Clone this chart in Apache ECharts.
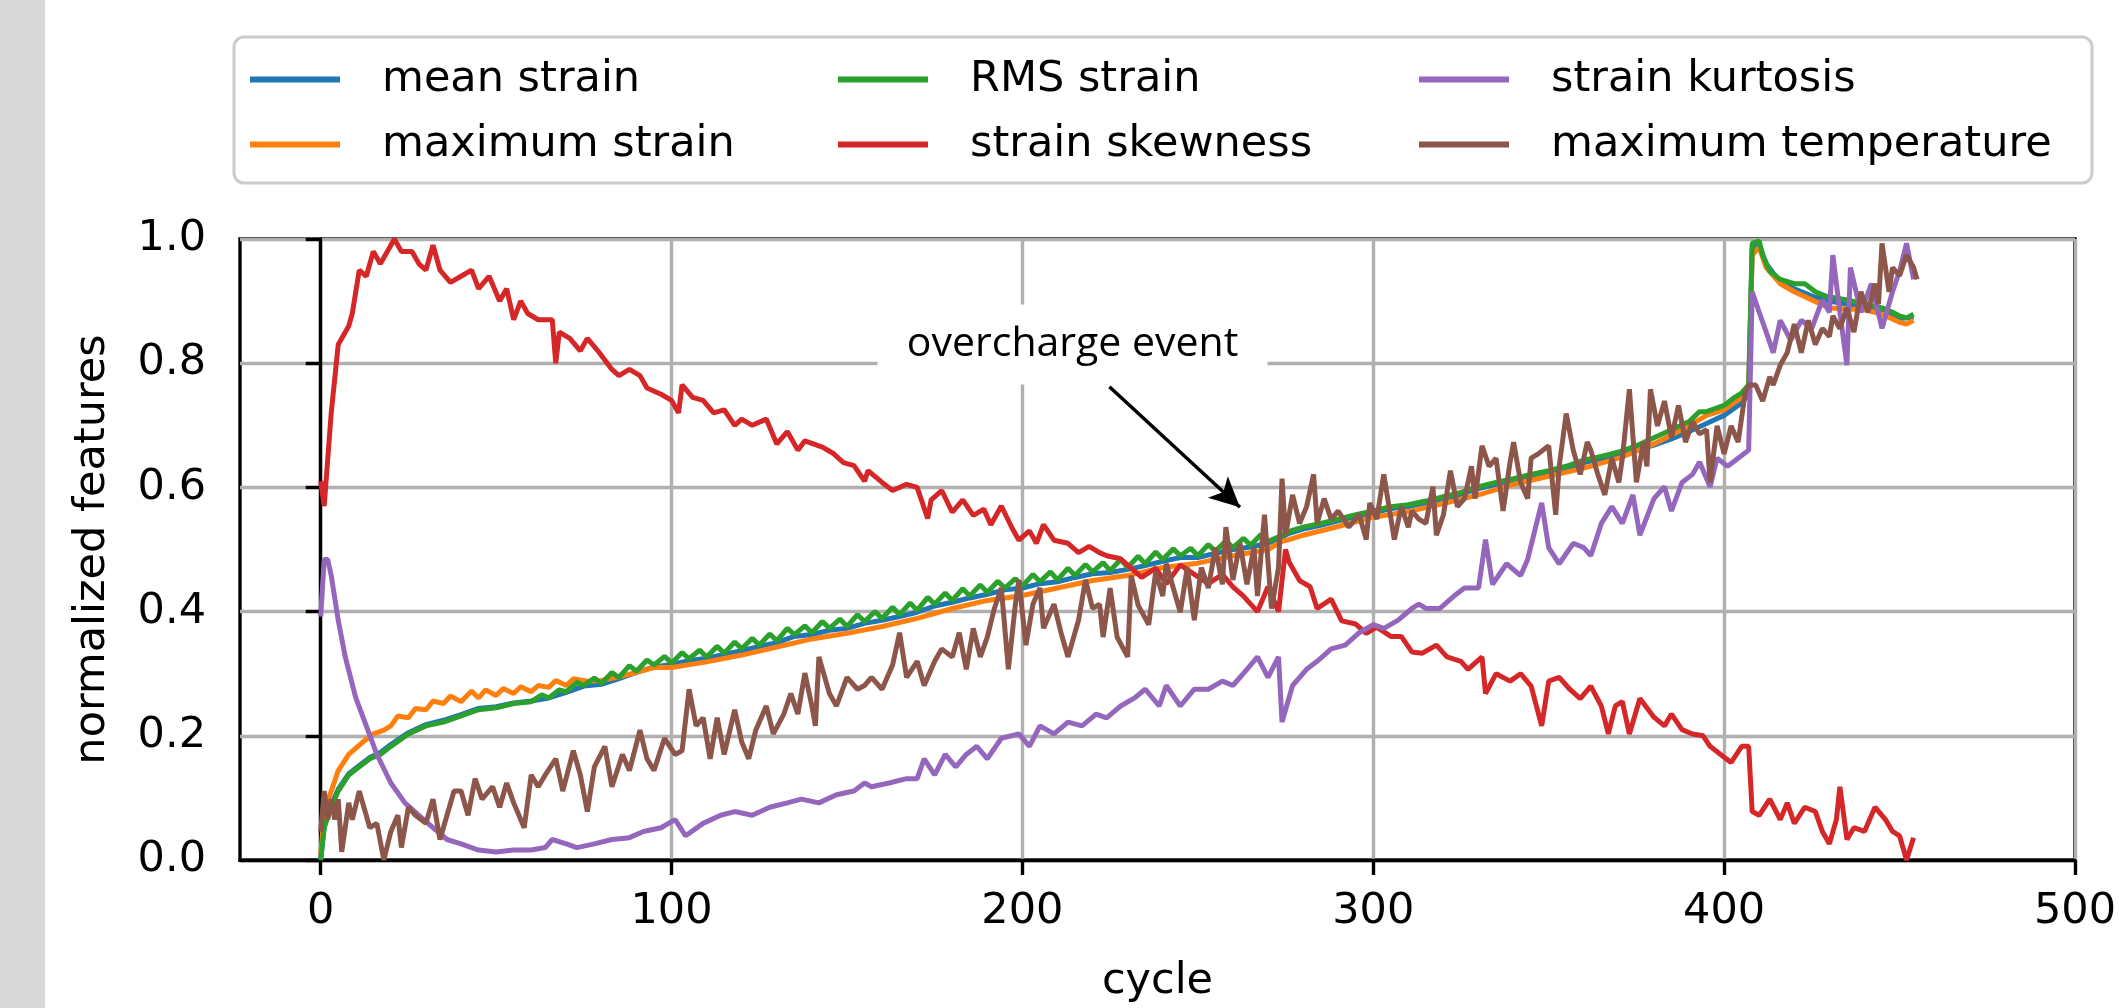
<!DOCTYPE html>
<html>
<head>
<meta charset="utf-8">
<script src="https://cdn.jsdelivr.net/npm/echarts@6/dist/echarts.min.js"></script>
<style>
  html, body { margin: 0; padding: 0; background: #fff; }
  #chart { width: 2119px; height: 1008px; }
</style>
</head>
<body>
<div id="chart"></div>
<script>
(function () {
  'use strict';

  // x tick labels
  var cycleTicks = [0, 100, 200, 300, 400, 500];

  // [cycle, normalized value]
  var meanStrain = [[0,0],[1,0.055],[3,0.088],[5,0.114],[8,0.139],[11,0.152],[14,0.165],[17,0.173],[20,0.186],[25,0.205],[30,0.218],[35,0.225],[40,0.234],[45,0.244],[50,0.247],[55,0.253],[60,0.256],[65,0.261],[70,0.27],[75,0.28],[80,0.283],[85,0.292],[90,0.302],[95,0.311],[100,0.315],[105,0.321],[110,0.325],[115,0.331],[120,0.337],[125,0.344],[130,0.35],[135,0.36],[140,0.363],[145,0.37],[150,0.373],[155,0.381],[160,0.386],[165,0.392],[170,0.399],[175,0.409],[180,0.415],[185,0.422],[190,0.428],[195,0.435],[200,0.438],[205,0.445],[210,0.448],[215,0.455],[220,0.461],[225,0.463],[230,0.468],[235,0.474],[240,0.481],[245,0.487],[250,0.487],[255,0.494],[260,0.5],[265,0.504],[270,0.51],[274,0.52],[276,0.526],[280,0.533],[285,0.539],[290,0.546],[295,0.553],[300,0.559],[305,0.566],[310,0.569],[315,0.575],[320,0.582],[325,0.589],[330,0.598],[335,0.605],[340,0.611],[345,0.618],[350,0.624],[355,0.631],[360,0.64],[365,0.646],[370,0.652],[375,0.66],[380,0.668],[385,0.678],[390,0.69],[395,0.703],[400,0.716],[405,0.736],[407,0.75],[408,0.985],[410,0.99],[412,0.96],[416,0.93],[420,0.92],[425,0.908],[430,0.9],[440,0.89],[445,0.884],[450,0.872],[454,0.874]];

  var maxStrain = [[0,0.007],[1,0.078],[3,0.111],[5,0.144],[8,0.17],[10,0.18],[12,0.19],[15,0.203],[18,0.209],[20,0.216],[22,0.232],[25,0.229],[27,0.244],[30,0.242],[32,0.256],[35,0.252],[37,0.264],[40,0.255],[43,0.272],[45,0.261],[47,0.274],[50,0.265],[52,0.276],[55,0.268],[57,0.279],[60,0.271],[62,0.281],[65,0.278],[67,0.289],[70,0.281],[72,0.292],[76,0.288],[80,0.289],[85,0.295],[90,0.302],[95,0.31],[100,0.31],[110,0.319],[120,0.33],[130,0.343],[140,0.356],[150,0.365],[160,0.376],[170,0.389],[180,0.405],[190,0.418],[200,0.426],[210,0.438],[220,0.45],[230,0.458],[240,0.471],[250,0.478],[260,0.49],[270,0.5],[274,0.513],[276,0.516],[280,0.523],[290,0.537],[300,0.552],[310,0.561],[320,0.574],[330,0.588],[340,0.605],[350,0.618],[360,0.631],[370,0.647],[380,0.67],[390,0.699],[395,0.716],[400,0.725],[405,0.745],[407,0.755],[408,0.974],[410,0.987],[412,0.954],[416,0.928],[420,0.915],[425,0.902],[430,0.889],[440,0.886],[445,0.879],[450,0.866],[452,0.863],[454,0.869]];

  var rmsStrain = [[0,0],[1,0.052],[3,0.085],[5,0.111],[8,0.137],[11,0.15],[14,0.163],[17,0.17],[20,0.183],[25,0.203],[30,0.216],[35,0.222],[40,0.232],[45,0.242],[50,0.245],[55,0.252],[60,0.255],[63,0.266],[65,0.261],[68,0.274],[70,0.271],[73,0.286],[75,0.281],[78,0.293],[80,0.284],[83,0.302],[85,0.294],[88,0.313],[90,0.304],[93,0.322],[95,0.314],[98,0.328],[100,0.317],[103,0.334],[105,0.324],[108,0.338],[110,0.327],[113,0.344],[115,0.333],[118,0.351],[120,0.34],[123,0.357],[125,0.346],[128,0.364],[130,0.353],[133,0.373],[135,0.363],[138,0.377],[140,0.366],[143,0.384],[145,0.373],[148,0.388],[150,0.376],[153,0.395],[155,0.384],[158,0.4],[160,0.389],[163,0.407],[165,0.395],[168,0.414],[170,0.402],[173,0.423],[175,0.412],[178,0.43],[180,0.418],[183,0.437],[185,0.425],[188,0.443],[190,0.431],[193,0.449],[195,0.438],[198,0.453],[200,0.441],[203,0.46],[205,0.448],[208,0.464],[210,0.451],[213,0.47],[215,0.458],[218,0.476],[220,0.464],[223,0.479],[225,0.466],[228,0.484],[230,0.471],[233,0.489],[235,0.477],[238,0.496],[240,0.484],[243,0.501],[245,0.49],[248,0.502],[250,0.49],[253,0.508],[255,0.497],[258,0.514],[260,0.503],[263,0.518],[265,0.507],[268,0.524],[270,0.513],[274,0.523],[276,0.529],[280,0.536],[285,0.542],[290,0.549],[295,0.556],[300,0.562],[305,0.569],[310,0.572],[315,0.578],[320,0.585],[325,0.592],[330,0.601],[335,0.608],[340,0.614],[345,0.621],[350,0.627],[355,0.634],[360,0.644],[365,0.65],[370,0.657],[375,0.667],[380,0.68],[385,0.693],[390,0.706],[393,0.722],[395,0.722],[400,0.732],[403,0.745],[405,0.752],[407,0.765],[408,0.993],[410,0.997],[411,0.974],[413,0.948],[416,0.935],[420,0.928],[423,0.928],[426,0.915],[429,0.908],[435,0.902],[440,0.895],[445,0.889],[448,0.882],[450,0.876],[452,0.873],[454,0.879]];

  var skewness = [[0,0.61],[1,0.57],[3,0.72],[5,0.83],[8,0.86],[9,0.88],[11,0.95],[13,0.94],[15,0.98],[17,0.96],[19,0.98],[21,1.0],[23,0.98],[26,0.98],[28,0.96],[30,0.95],[32,0.99],[34,0.95],[37,0.93],[40,0.94],[43,0.95],[45,0.92],[48,0.94],[51,0.9],[53,0.92],[55,0.87],[57,0.9],[59,0.88],[62,0.87],[66,0.87],[67,0.8],[68,0.85],[71,0.84],[74,0.82],[76,0.84],[79,0.82],[83,0.79],[85,0.78],[88,0.79],[91,0.78],[93,0.76],[97,0.75],[100,0.74],[102,0.72],[103,0.765],[106,0.745],[109,0.74],[112,0.72],[115,0.725],[118,0.7],[120,0.71],[123,0.7],[127,0.71],[130,0.67],[133,0.69],[136,0.66],[138,0.675],[143,0.665],[146,0.655],[149,0.64],[152,0.635],[155,0.61],[156,0.627],[160,0.608],[163,0.595],[167,0.605],[170,0.6],[173,0.55],[174,0.58],[177,0.595],[180,0.56],[183,0.58],[186,0.555],[189,0.565],[191,0.54],[194,0.57],[197,0.535],[199,0.515],[202,0.53],[204,0.51],[206,0.54],[209,0.515],[213,0.51],[216,0.495],[219,0.505],[222,0.495],[224,0.49],[228,0.485],[231,0.47],[234,0.455],[238,0.47],[241,0.445],[245,0.475],[249,0.46],[253,0.445],[257,0.46],[260,0.44],[263,0.425],[267,0.4],[270,0.44],[273,0.4],[275,0.5],[276,0.48],[279,0.45],[282,0.44],[284,0.405],[288,0.42],[291,0.385],[295,0.38],[298,0.365],[301,0.375],[305,0.36],[308,0.36],[311,0.335],[314,0.333],[318,0.346],[321,0.327],[325,0.32],[327,0.307],[331,0.327],[332,0.268],[335,0.3],[339,0.288],[342,0.3],[345,0.28],[348,0.216],[350,0.288],[353,0.294],[356,0.275],[359,0.26],[362,0.28],[365,0.248],[367,0.203],[369,0.248],[371,0.255],[373,0.203],[376,0.26],[380,0.23],[383,0.216],[385,0.235],[388,0.21],[391,0.203],[394,0.2],[396,0.183],[399,0.17],[402,0.157],[405,0.183],[407,0.183],[408,0.078],[410,0.072],[413,0.098],[416,0.065],[418,0.092],[420,0.059],[423,0.085],[426,0.078],[428,0.046],[430,0.026],[432,0.065],[433,0.118],[435,0.033],[437,0.052],[440,0.046],[443,0.085],[446,0.065],[448,0.046],[450,0.039],[452,0.0],[454,0.036]];

  var kurtosis = [[0,0.392],[1,0.484],[2,0.484],[3,0.458],[5,0.386],[7,0.327],[10,0.261],[13,0.216],[16,0.17],[20,0.124],[24,0.092],[28,0.072],[32,0.052],[36,0.033],[40,0.026],[45,0.016],[50,0.013],[55,0.016],[60,0.016],[64,0.02],[66,0.033],[70,0.026],[73,0.02],[78,0.026],[83,0.033],[88,0.036],[92,0.046],[97,0.052],[101,0.065],[104,0.039],[109,0.059],[114,0.072],[118,0.078],[123,0.072],[128,0.085],[133,0.092],[137,0.098],[142,0.092],[147,0.105],[152,0.111],[155,0.124],[157,0.118],[162,0.124],[167,0.131],[170,0.131],[172,0.163],[175,0.137],[178,0.17],[181,0.15],[184,0.17],[187,0.183],[190,0.163],[194,0.196],[199,0.203],[202,0.183],[205,0.216],[209,0.203],[213,0.222],[217,0.216],[221,0.235],[224,0.229],[228,0.248],[232,0.261],[235,0.275],[239,0.248],[241,0.281],[245,0.248],[249,0.275],[253,0.275],[257,0.288],[260,0.281],[264,0.307],[267,0.327],[270,0.294],[273,0.327],[274,0.222],[277,0.281],[281,0.307],[284,0.32],[288,0.34],[292,0.346],[296,0.366],[300,0.379],[303,0.373],[307,0.386],[311,0.405],[313,0.412],[315,0.405],[319,0.405],[323,0.425],[326,0.438],[330,0.438],[332,0.516],[334,0.444],[338,0.477],[342,0.458],[344,0.484],[348,0.575],[350,0.503],[353,0.477],[357,0.51],[360,0.503],[362,0.49],[365,0.542],[368,0.569],[371,0.542],[374,0.588],[376,0.523],[380,0.582],[383,0.601],[385,0.562],[388,0.608],[391,0.621],[393,0.641],[396,0.601],[398,0.647],[401,0.634],[404,0.647],[407,0.66],[408,0.915],[410,0.882],[412,0.85],[414,0.817],[416,0.869],[419,0.837],[422,0.869],[425,0.856],[428,0.902],[430,0.882],[431,0.974],[433,0.882],[435,0.797],[436,0.954],[439,0.882],[442,0.928],[445,0.856],[448,0.915],[450,0.948],[452,0.993],[454,0.935]];

  var maxTemp = [[0,0.046],[1,0.111],[2,0.065],[3,0.098],[4,0.065],[5,0.098],[6,0.013],[8,0.092],[9,0.065],[11,0.111],[14,0.052],[16,0.059],[18,0.0],[20,0.046],[22,0.072],[23,0.02],[25,0.085],[27,0.072],[30,0.059],[32,0.098],[34,0.033],[36,0.072],[38,0.111],[40,0.111],[42,0.072],[44,0.131],[46,0.098],[49,0.118],[51,0.085],[53,0.124],[55,0.092],[58,0.052],[60,0.137],[62,0.118],[64,0.137],[67,0.163],[69,0.111],[72,0.176],[74,0.137],[76,0.078],[78,0.15],[81,0.183],[83,0.118],[86,0.17],[88,0.144],[91,0.209],[93,0.163],[95,0.144],[98,0.196],[101,0.17],[103,0.176],[105,0.275],[107,0.216],[109,0.229],[111,0.163],[113,0.229],[115,0.17],[118,0.242],[120,0.19],[122,0.163],[124,0.209],[127,0.248],[129,0.203],[132,0.235],[134,0.268],[136,0.235],[138,0.301],[140,0.248],[141,0.216],[142,0.327],[145,0.268],[147,0.248],[150,0.294],[153,0.275],[155,0.281],[157,0.294],[160,0.275],[163,0.314],[165,0.366],[167,0.294],[170,0.32],[172,0.281],[175,0.32],[177,0.34],[180,0.327],[182,0.366],[184,0.307],[186,0.373],[188,0.327],[190,0.359],[192,0.405],[194,0.438],[196,0.307],[198,0.412],[199,0.451],[201,0.346],[203,0.412],[205,0.438],[206,0.373],[209,0.412],[211,0.366],[213,0.327],[216,0.386],[218,0.451],[220,0.405],[222,0.412],[223,0.359],[225,0.438],[227,0.359],[230,0.327],[231,0.458],[233,0.41],[236,0.379],[238,0.464],[240,0.425],[241,0.477],[243,0.438],[245,0.399],[247,0.471],[249,0.386],[251,0.471],[253,0.438],[255,0.503],[257,0.444],[258,0.536],[260,0.451],[262,0.51],[264,0.444],[266,0.503],[267,0.425],[269,0.556],[271,0.405],[273,0.471],[274,0.614],[275,0.523],[277,0.588],[279,0.542],[281,0.569],[283,0.621],[284,0.542],[286,0.582],[288,0.549],[290,0.562],[293,0.536],[296,0.556],[298,0.516],[299,0.575],[301,0.549],[303,0.621],[306,0.516],[308,0.569],[310,0.536],[311,0.562],[313,0.549],[315,0.542],[317,0.601],[318,0.523],[320,0.556],[322,0.627],[324,0.569],[326,0.582],[328,0.634],[329,0.582],[331,0.667],[333,0.634],[335,0.647],[337,0.562],[339,0.641],[340,0.673],[342,0.608],[344,0.582],[345,0.647],[347,0.654],[350,0.667],[352,0.556],[353,0.634],[355,0.719],[357,0.66],[359,0.621],[361,0.673],[362,0.66],[364,0.621],[366,0.588],[368,0.647],[370,0.608],[371,0.647],[373,0.758],[375,0.608],[377,0.673],[378,0.634],[379,0.758],[381,0.699],[383,0.739],[385,0.68],[387,0.732],[389,0.673],[391,0.706],[393,0.686],[395,0.693],[396,0.608],[398,0.699],[400,0.654],[402,0.699],[404,0.673],[406,0.752],[407,0.765],[409,0.765],[411,0.739],[413,0.778],[414,0.765],[416,0.797],[418,0.817],[420,0.863],[422,0.817],[424,0.869],[426,0.83],[428,0.856],[430,0.843],[431,0.876],[433,0.856],[435,0.889],[437,0.85],[439,0.915],[441,0.882],[443,0.928],[444,0.895],[445,0.993],[447,0.915],[448,0.954],[450,0.941],[452,0.974],[454,0.954],[455,0.935]];

  // annotation: text box centre, arrow start and end (data coords)
  var noteAt = [214.3, 0.83];
  var arrowFrom = [224.8, 0.762];
  var arrowTo = [262, 0.568];

  var FONT = 'DejaVu Sans';
  var colors = ['#1f77b4', '#ff7f0e', '#2ca02c', '#d62728', '#9467bd', '#8c564b'];

  function line(name, data, color) {
    return {
      name: name,
      type: 'line',
      data: data,
      showSymbol: false,
      symbol: 'none',
      lineStyle: { width: 5, color: color },
      itemStyle: { color: color },
      clip: true
    };
  }

  var series = [
    line('mean strain', meanStrain, colors[0]),
    line('maximum strain', maxStrain, colors[1]),
    line('RMS strain', rmsStrain, colors[2]),
    line('strain skewness', skewness, colors[3]),
    line('strain kurtosis', kurtosis, colors[4]),
    line('maximum temperature', maxTemp, colors[5])
  ];

  // overcharge note rides on the top series
  series[5].markPoint = {
    silent: true,
    symbol: 'rect',
    symbolSize: [390, 80],
    itemStyle: { color: '#fff' },
    label: {
      show: true,
      position: 'inside',
      formatter: 'overcharge event',
      color: '#000',
      fontFamily: 'Open Sans',
      fontSize: 41
    },
    data: [{ coord: noteAt }]
  };
  series[5].markLine = {
    silent: true,
    symbol: ['none', 'arrow'],
    symbolSize: [22, 30],
    label: { show: false },
    lineStyle: { color: '#000', width: 3.5, type: 'solid' },
    data: [[{ coord: arrowFrom }, { coord: arrowTo }]]
  };

  var legendCommon = {
    orient: 'vertical',
    top: 58,
    padding: 0,
    icon: 'rect',
    itemWidth: 90,
    itemHeight: 6,
    itemGap: 22,
    selectedMode: false,
    textStyle: { fontFamily: FONT, fontSize: 43, color: '#000', padding: [0, 0, 0, 37] }
  };

  var option = {
    animation: false,
    backgroundColor: '#fff',
    graphic: [
      { type: 'rect', shape: { x: 0, y: 0, width: 45, height: 1008 }, style: { fill: '#d9d9d9' } },
      { type: 'rect', z: -1, shape: { x: 234, y: 37, width: 1858, height: 146, r: 10 },
        style: { fill: '#fff', stroke: '#cccccc', lineWidth: 3 } }
    ],
    legend: [
      Object.assign({ left: 250, data: ['mean strain', 'maximum strain'] }, legendCommon),
      Object.assign({ left: 838, data: ['RMS strain', 'strain skewness'] }, legendCommon),
      Object.assign({ left: 1419, data: ['strain kurtosis', 'maximum temperature'] }, legendCommon)
    ],
    grid: {
      left: 240, right: 31, top: 239, bottom: 146,
      show: true, borderColor: '#000', borderWidth: 3.4, backgroundColor: 'transparent'
    },
    xAxis: {
      type: 'value',
      min: -23,
      max: 500,
      name: 'cycle',
      nameLocation: 'middle',
      nameGap: 100,
      nameTextStyle: { fontFamily: FONT, fontSize: 43, color: '#000' },
      axisLine: { show: true, lineStyle: { color: '#000', width: 3.4 } },
      axisTick: { show: true, length: 15, customValues: cycleTicks, lineStyle: { color: '#000', width: 3.4 } },
      axisLabel: { customValues: cycleTicks, margin: 30, fontFamily: FONT, fontSize: 43, color: '#000' },
      splitLine: { show: true, lineStyle: { color: '#b0b0b0', width: 3.4 } }
    },
    yAxis: {
      type: 'value',
      min: 0,
      max: 1,
      interval: 0.2,
      name: 'normalized features',
      nameLocation: 'middle',
      nameGap: 126,
      nameTextStyle: { fontFamily: FONT, fontSize: 43, color: '#000' },
      axisLine: { show: true, lineStyle: { color: '#000', width: 3.4 } },
      axisTick: { show: true, length: 15, lineStyle: { color: '#000', width: 3.4 } },
      axisLabel: {
        margin: 34, fontFamily: FONT, fontSize: 43, color: '#000',
        formatter: function (v) { return v.toFixed(1); }
      },
      splitLine: { show: true, lineStyle: { color: '#b0b0b0', width: 3.4 } }
    },
    series: series
  };

  var chart = echarts.init(document.getElementById('chart'), null, { renderer: 'canvas' });
  chart.setOption(option);
})();
</script>
</body>
</html>
